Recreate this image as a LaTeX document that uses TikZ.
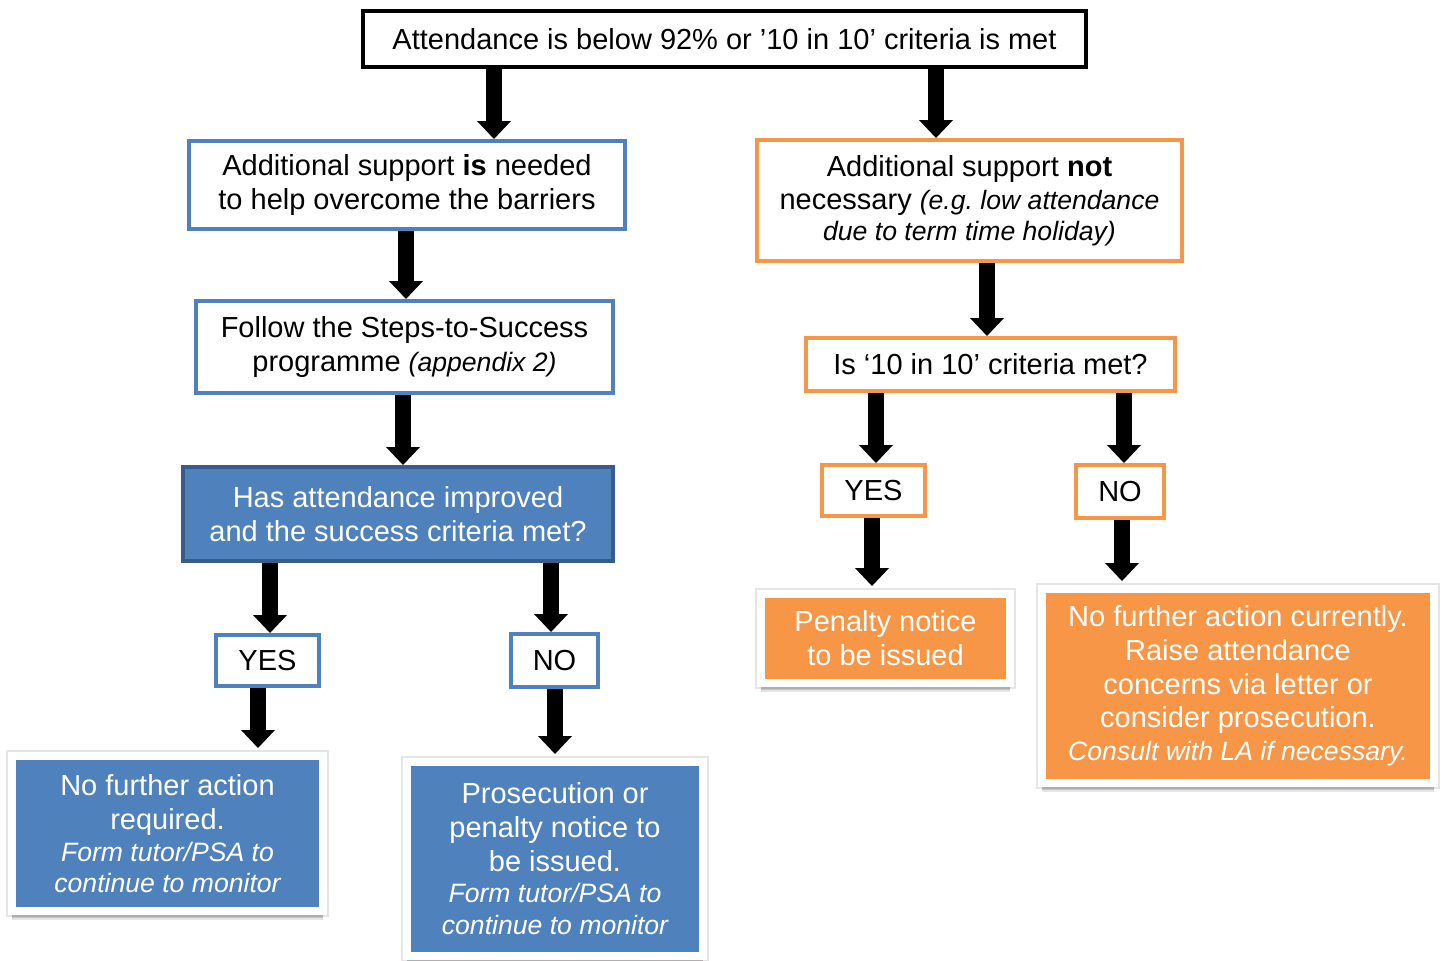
\documentclass[tikz,border=0pt]{standalone}
\usepackage{fontspec}
\setmainfont{Liberation Sans}
\usetikzlibrary{arrows.meta,shadows}
\definecolor{cblue}{HTML}{4F81BD}
\definecolor{cdblue}{HTML}{385D8A}
\definecolor{corange}{HTML}{F79646}
\newcommand\smit{\fontsize{13.3}{16}\selectfont\itshape}
\frenchspacing
\begin{document}
\begin{tikzpicture}[x=0.5pt,y=-0.5pt,
  box/.style={draw, line width=2pt, inner sep=0pt, align=center, font=\fontsize{14.5}{17}\selectfont},
  sz/.style 2 args={minimum width=#1, minimum height=#2},
  kbox/.style={box, draw=black},
  bbox/.style={box, draw=cblue},
  obox/.style={box, draw=corange},
  dbox/.style={box, draw=cdblue, fill=cblue, text=white},
  fbox/.style={box, draw=white, line width=4pt, text=white,
    drop shadow={shadow xshift=0pt, shadow yshift=-4.5pt, opacity=0.10, fill=black},
    drop shadow={shadow xshift=0pt, shadow yshift=-3.5pt, opacity=0.15, fill=black},
    preaction={draw=black, draw opacity=0.10, line width=6pt}},
  fblue/.style={fbox, fill=cblue},
  forange/.style={fbox, fill=corange},
  arr/.style={line width=8pt, -{Triangle[width=17pt,length=9pt,line width=0pt]}},
  arrf/.style={arr, shorten >=2pt}]
\useasboundingbox (0,0) rectangle (1447,960);

% boxes
\node[kbox, sz={361.5pt}{28pt}] (top) at (724.5,39) {Attendance is below 92\% or ’10 in 10’ criteria is met};
\node[bbox, sz={218pt}{44pt}] (b1) at (407,185) {Additional support \textbf{is} needed\\ to help overcome the barriers};
\node[bbox, sz={208.5pt}{46pt}] (b2) at (404.5,347) {Follow the Steps-to-Success\\ programme {\smit (appendix 2)}};
\node[dbox, sz={215pt}{47pt}] (b3) at (398,514) {Has attendance improved\\ and the success criteria met?};
\node[bbox, sz={51.5pt}{25.5pt}] (yes1) at (267.5,660.5) {YES};
\node[bbox, sz={43.5pt}{26.5pt}] (no1) at (554.5,660.5) {NO};
\node[fblue, sz={155.5pt}{77.5pt}] (f1) at (167.5,833.5) {No further action\\ required.\\[-1pt] {\smit Form tutor/PSA to}\\[-1.5pt] {\smit continue to monitor}};
\node[fblue, sz={148pt}{97pt}] (f2) at (555,859) {Prosecution or\\ penalty notice to\\ be issued.\\[-1.5pt] {\smit Form tutor/PSA to}\\[-1pt] {\smit continue to monitor}};

\node[obox, sz={212.5pt}{60.5pt}] (o1) at (969.5,200.5) {Additional support \textbf{not}\\[-0.5pt] necessary {\smit (e.g. low attendance}\\[-1.5pt] {\smit due to term time holiday)}};
\node[obox, sz={184.5pt}{26.5pt}] (o2) at (990.5,364.5) {Is ‘10 in 10’ criteria met?};
\node[obox, sz={51.5pt}{25.5pt}] (yes2) at (873.5,490.5) {YES};
\node[obox, sz={44pt}{26.5pt}] (no2) at (1120,491.5) {NO};
\node[forange, sz={124.5pt}{44.5pt}] (f3) at (885.5,638.5) {Penalty notice\\ to be issued};
\node[forange, sz={196pt}{97pt}] (f4) at (1238,686) {No further action currently.\\ Raise attendance\\ concerns via letter or\\[-0.5pt] consider prosecution.\\[-0.5pt] {\smit Consult with LA if necessary.}};

% connectors
\draw[arr] (top.south -| 494,0) -- (b1.north -| 494,0);
\draw[arr] (top.south -| 936,0) -- (o1.north -| 936,0);
\draw[arr] (b1.south -| 406,0) -- (b2.north -| 406,0);
\draw[arr] (b2.south -| 403,0) -- (b3.north -| 403,0);
\draw[arr] (b3.south -| 270,0) -- (yes1.north -| 270,0);
\draw[arr] (b3.south -| 551,0) -- (no1.north -| 551,0);
\draw[arrf] (yes1.south -| 258,0) -- (f1.north -| 258,0);
\draw[arrf] (no1.south -| 555,0) -- (f2.north -| 555,0);
\draw[arr] (o1.south -| 987,0) -- (o2.north -| 987,0);
\draw[arr] (o2.south -| 876,0) -- (yes2.north -| 876,0);
\draw[arr] (o2.south -| 1124,0) -- (no2.north -| 1124,0);
\draw[arrf] (yes2.south -| 872,0) -- (f3.north -| 872,0);
\draw[arrf] (no2.south -| 1122,0) -- (f4.north -| 1122,0);
\end{tikzpicture}
\end{document}
